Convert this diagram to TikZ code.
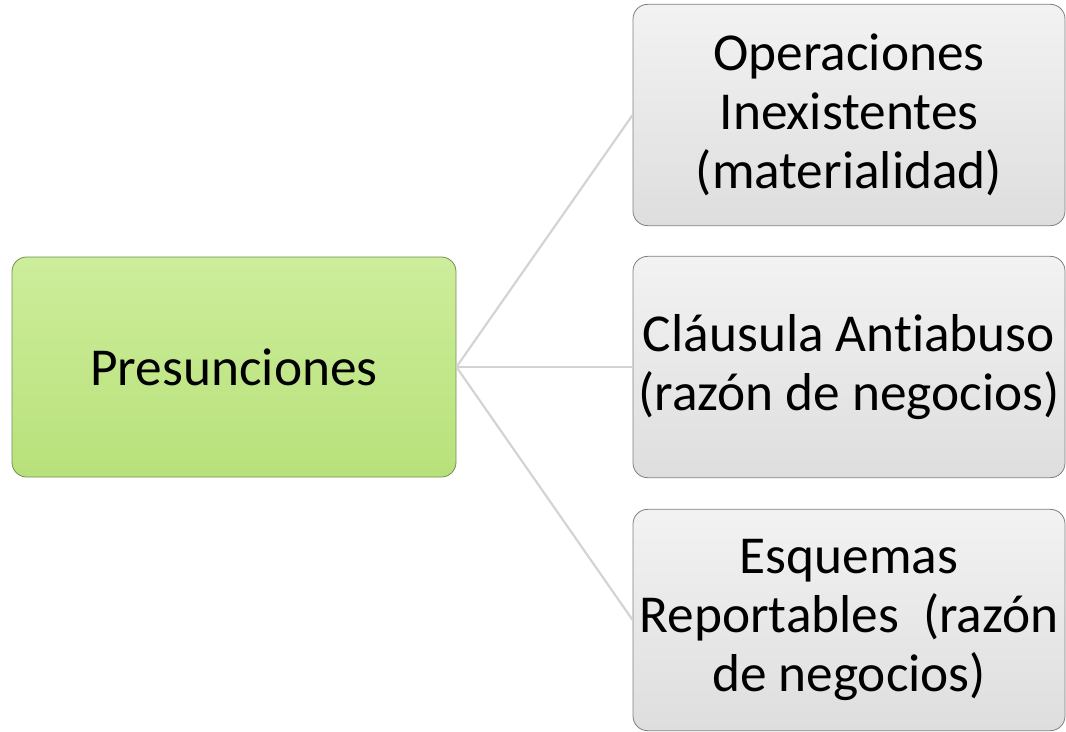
\documentclass[tikz,border=0pt]{standalone}
\usepackage{fontspec}
\setmainfont[Ligatures=NoCommon]{Carlito}
\usepackage{tikz}
\usetikzlibrary{calc}

\definecolor{greentop}{HTML}{CDED9B}
\definecolor{greenbot}{HTML}{B8E17A}
\definecolor{greyedge}{HTML}{7F7F7F}
\definecolor{greenedge}{HTML}{6F8F55}
\definecolor{linkgrey}{HTML}{D3D3D3}

\tikzset{
  mainbox/.style={rectangle, rounded corners=11pt, draw=greenedge, line width=0.6pt,
    top color=greentop, bottom color=greenbot, minimum width=333pt, minimum height=165pt,
    align=center, font=\fontsize{40}{44}\selectfont},
  subbox/.style={rectangle, rounded corners=11pt, draw=greyedge, line width=0.6pt,
    top color=black!5, bottom color=black!13, minimum width=324pt, minimum height=166pt,
    align=center, font=\fontsize{40}{44}\selectfont},
  link/.style={draw=linkgrey, line width=1.6pt}
}

\begin{document}
\begin{tikzpicture}[x=0.75pt,y=-0.75pt]

\useasboundingbox (0,0) rectangle (1066,731);

 \node[mainbox] (pres) at (234,367) {Presunciones};

 \node[subbox] (oper) at (849,115) {Operaciones\\Inexistentes\\(materialidad)};
 \node[subbox] (claus) at (849,367) {Cláusula Antiabuso\\(razón de negocios)};
 \node[subbox] (esq) at (849,620) {Esquemas\\Reportables~~(razón\\de negocios)};

\draw[link] (pres.east) -- (oper.west);
\draw[link] (pres.east) -- (claus.west);
\draw[link] (pres.east) -- (esq.west);

\end{tikzpicture}
\end{document}
